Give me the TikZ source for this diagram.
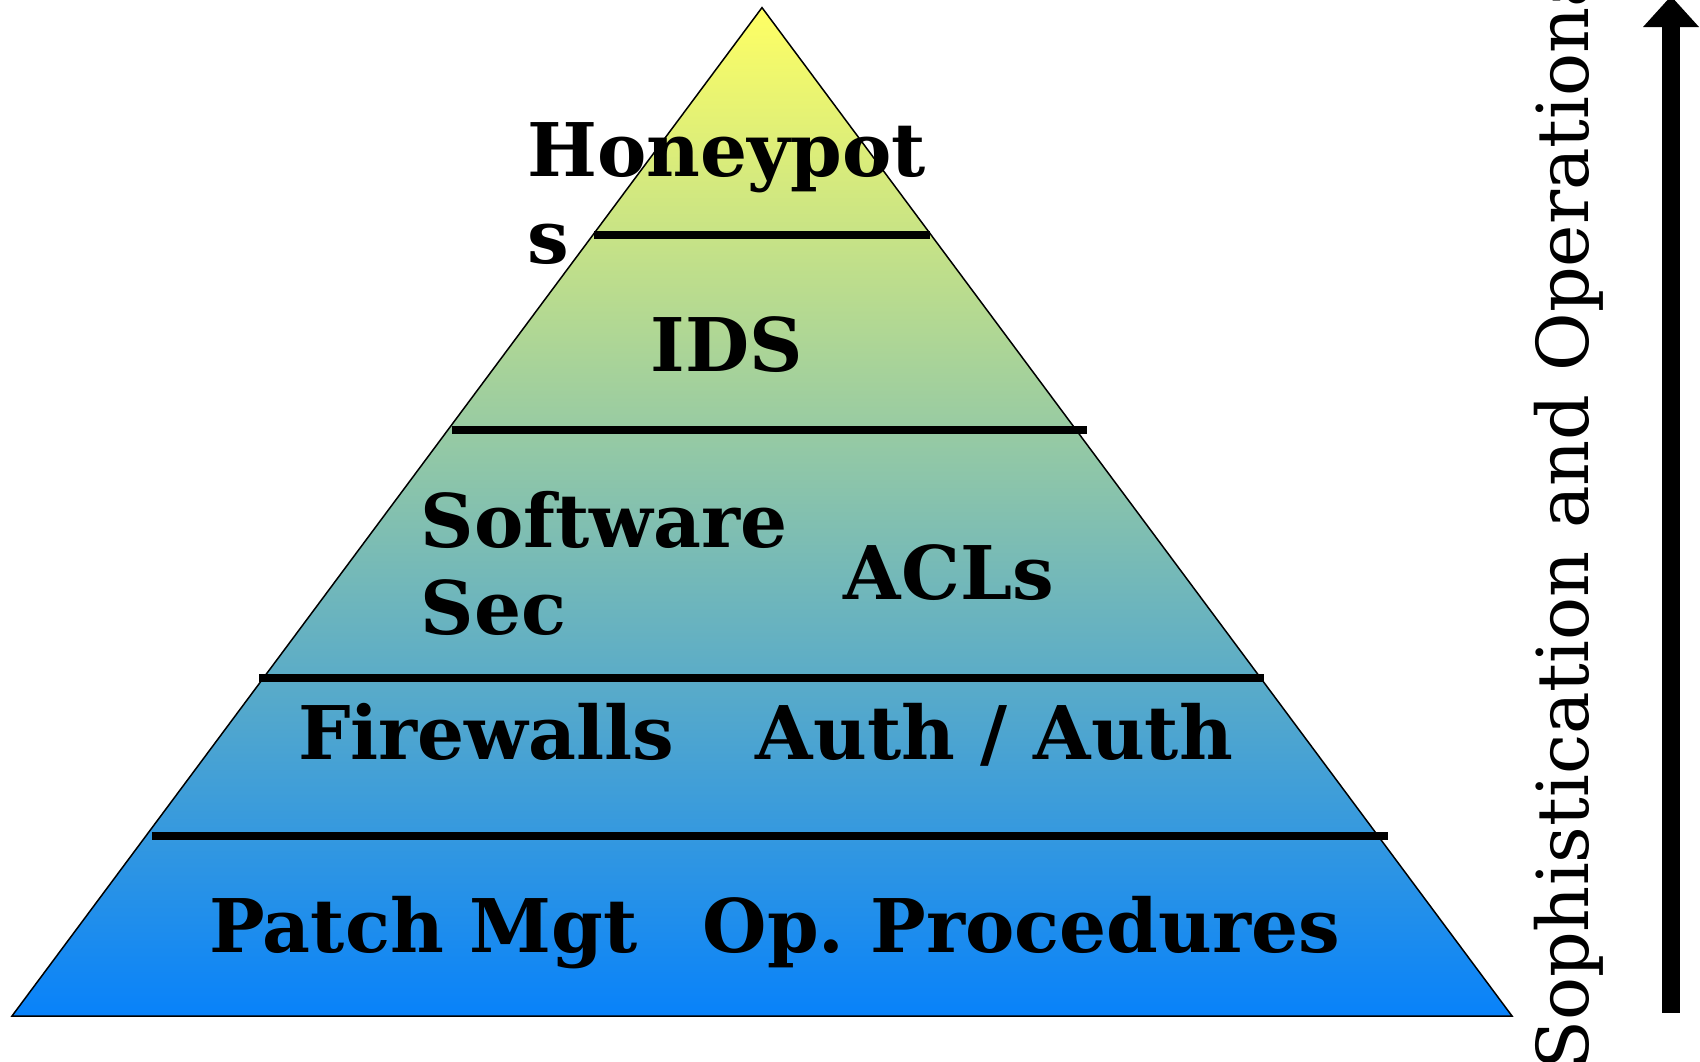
\documentclass[tikz,border=0pt]{standalone}
\usepackage{fontspec}
\setmainfont{DejaVu Serif}
\usetikzlibrary{arrows.meta}
\frenchspacing
\definecolor{pyrtop}{RGB}{255,255,100}
\definecolor{pyrbot}{RGB}{8,130,250}
% vertical blend for the pyramid body (bottom to top)
\pgfdeclareverticalshading{pyramidfill}{100bp}{color(0bp)=(pyrbot); color(25bp)=(pyrbot); color(75bp)=(pyrtop); color(100bp)=(pyrtop)}
\tikzset{
  tierline/.style={line width=8pt, line cap=butt},
  tierlabel/.style={font=\bfseries\fontsize{74}{86.6}\selectfont, inner sep=0pt, anchor=base west, align=left},
  axislabel/.style={font=\fontsize{71.5}{86.6}\selectfont, inner sep=0pt, anchor=base west, rotate=90},
}
\begin{document}
\begin{tikzpicture}[x=1pt,y=-1pt]
\useasboundingbox (0,0) rectangle (1700,1061);
\clip (0,0) rectangle (1700,1061);

% pyramid corners
\coordinate (apex) at (762,7.6);
\coordinate (bl) at (12,1016);
\coordinate (br) at (1512,1016);

\path[shading=pyramidfill] (apex) -- (bl) -- (br) -- cycle;
\draw[line width=1.5pt, line join=miter] (apex) -- (bl) -- (br) -- cycle;

% tier separators
\coordinate (t1l) at (594,235.3);  \coordinate (t1r) at (930,235.3);
\coordinate (t2l) at (452,430.4);  \coordinate (t2r) at (1087,430.4);
\coordinate (t3l) at (259,677.6);  \coordinate (t3r) at (1264,677.6);
\coordinate (t4l) at (152,836);    \coordinate (t4r) at (1388,836);
\draw[tierline] (t1l) -- (t1r);
\draw[tierline] (t2l) -- (t2r);
\draw[tierline] (t3l) -- (t3r);
\draw[tierline] (t4l) -- (t4r);

% tier labels (multi-line labels are placed by their last baseline)
\node[tierlabel] (honeypots) at (527,263.5) {Honeypot\\s};
\node[tierlabel] (ids) at (650.5,371) {IDS};
\node[tierlabel] (softsec) at (420.7,634) {Software\\Sec};
\node[tierlabel] (acls) at (843.5,599.5) {ACLs};
\node[tierlabel] (firewalls) at (298,759) {Firewalls};
\node[tierlabel] (authauth) at (755.7,759) {Auth / Auth};
\node[tierlabel] (patch) at (209,952) {Patch Mgt};
\node[tierlabel] (opproc) at (702.6,952) {Op. Procedures};

% side axis
\node[axislabel] (axis) at (1588,1070) {Sophistication and Operational Cost};
\coordinate (arrowbot) at (1671,1012.7);
\coordinate (arrowtop) at (1671,-4);
\draw[line width=18pt, -{Triangle[width=54pt,length=31pt]}] (arrowbot) -- (arrowtop);
\end{tikzpicture}
\end{document}
